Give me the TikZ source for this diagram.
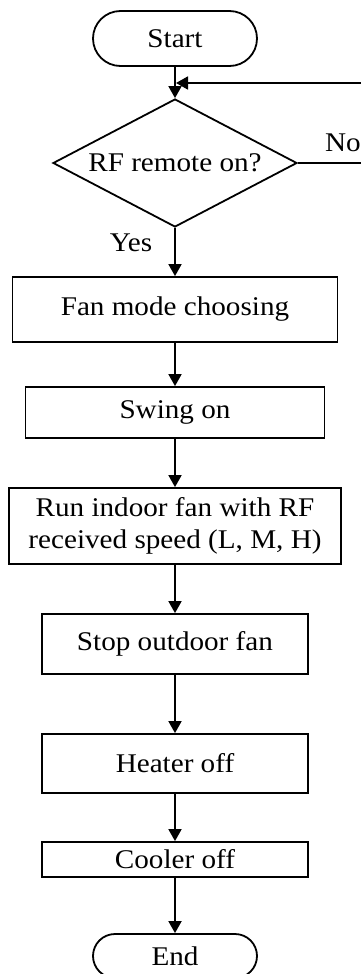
\documentclass[tikz,border=0pt]{standalone}
\usepackage{fontspec}
\setmainfont{Liberation Serif}[FakeStretch=1.08]
\usetikzlibrary{shapes.geometric,shapes.misc,arrows.meta}

\begin{document}
\begin{tikzpicture}[x=1pt,y=-1pt]
        \tikzset{
            every node/.style={font=\fontsize{27}{32}\selectfont},
            terminal/.style={rounded rectangle,draw=black,line width=1.8pt,minimum width=164pt,minimum height=55pt,inner sep=0pt},
            decision/.style={diamond,aspect=1.9,draw=black,line width=1.8pt,minimum width=244pt,minimum height=128pt,inner sep=0pt},
            process/.style={rectangle,draw=black,line width=1.8pt,inner sep=0pt,align=center},
            flow/.style={-{Triangle[length=12pt,width=13pt]},line width=1.8pt}
        }
        \clip (0,0) rectangle (361,974);

        \node[terminal] (start) at (175,38.5) {Start};
        \node[decision] (rf) at (175,163) {RF remote on?};
        \node[process,minimum width=325pt,minimum height=65pt] (fan) at (175,309.5) {Fan mode choosing};
        \node[process,minimum width=299pt,minimum height=51pt] (swing) at (175,412.5) {Swing on};
        \node[process,minimum width=332pt,minimum height=76pt] (run) at (175,526) {Run indoor fan with RF\\received speed (L, M, H)};
        \node[process,minimum width=266pt,minimum height=60pt] (outfan) at (175,644) {Stop outdoor fan};
        \node[process,minimum width=266pt,minimum height=59pt] (heater) at (175,763.5) {Heater off};
        \node[process,minimum width=266pt,minimum height=35pt] (cooler) at (175,859.5) {Cooler off};
        \node[terminal,minimum height=44pt] (end) at (175,956) {End};

        \draw[flow] (start) -- (rf);
        \draw[flow] (rf) -- (fan);
        \draw[flow] (fan) -- (swing);
        \draw[flow] (swing) -- (run);
        \draw[flow] (run) -- (outfan);
        \draw[flow] (outfan) -- (heater);
        \draw[flow] (heater) -- (cooler);
        \draw[flow] (cooler) -- (end);

        % loop back when no remote signal
        \coordinate (noR) at (380,163);
        \coordinate (noT) at (380,83);
        \coordinate (merge) at (176,83);
        \draw[line width=1.8pt] (rf.east) -- (noR) -- (noT);
        \draw[flow] (noT) -- (merge);

        \node (no) at (343,143) {No};
        \node (yes) at (131,243) {Yes};

    \end{tikzpicture}
\end{document}
